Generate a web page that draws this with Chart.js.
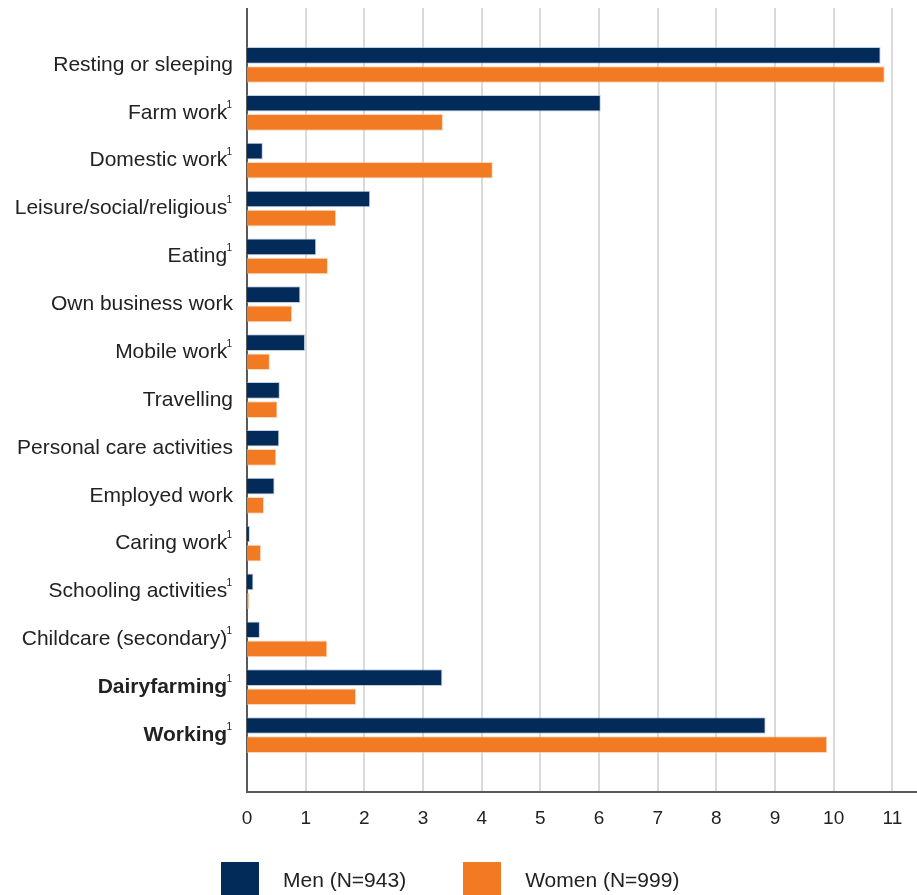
<!DOCTYPE html>
<html>
<head>
<meta charset="utf-8">
<script src="https://cdn.jsdelivr.net/npm/chart.js@4/dist/chart.umd.min.js"></script>
<style>
  html, body { margin: 0; padding: 0; background: #fff; overflow: hidden; }
  #wrap { position: relative; width: 917px; height: 895px; }
  #legend { position: absolute; left: 221px; top: 862px; display: flex; font: 21px "Liberation Sans", Arial, sans-serif; color: #222; }
  .item { display: flex; align-items: flex-start; }
  .box { width: 38px; height: 38px; margin-right: 24px; }
  .txt { margin-top: 7px; line-height: 22px; }
</style>
</head>
<body>
<div id="wrap">
  <canvas id="timeUseChart" width="917" height="895"></canvas>
  <div id="legend"></div>
</div>
<script>
// hours per day by activity
var activities = [
    'Resting or sleeping', 'Farm work', 'Domestic work', 'Leisure/social/religious',
    'Eating', 'Own business work', 'Mobile work', 'Travelling',
    'Personal care activities', 'Employed work', 'Caring work', 'Schooling activities',
    'Childcare (secondary)', 'Dairyfarming', 'Working'
];
var footnoted = [false, true, true, true, true, false, true, false, false, false, true, true, true, true, true];
var boldRows = [13, 14];
var menHours   = [10.80, 6.03, 0.27, 2.10, 1.18, 0.91, 0.99, 0.56, 0.55, 0.47, 0.05, 0.11, 0.22, 3.33, 8.84];
var womenHours = [10.87, 3.34, 4.19, 1.52, 1.38, 0.77, 0.39, 0.52, 0.50, 0.29, 0.24, 0.04, 1.37, 1.86, 9.89];
var seriesNames = ['Men (N=943)', 'Women (N=999)'];
var seriesColors = ['#032b5a', '#f27a22'];

var FONT = '"Liberation Sans", Arial, sans-serif';
var extendTop = 33, extendBottom = 33;
var labelPad = 14;

// grid + axis lines run past the bar band, so draw them by hand
var frameLines = {
    id: 'frameLines',
    beforeDatasetsDraw: function(chart) {
        var ctx = chart.ctx, area = chart.chartArea, xs = chart.scales.x;
        var top = area.top - extendTop, bottom = area.bottom + extendBottom;
        ctx.save();
        ctx.lineWidth = 2;
        ctx.strokeStyle = '#dadada';
        xs.ticks.forEach(function(t) {
            if (t.value <= 0) return;
            var x = Math.round(xs.getPixelForValue(t.value));
            ctx.beginPath();
            ctx.moveTo(x, top);
            ctx.lineTo(x, bottom);
            ctx.stroke();
        });
        var x0 = Math.round(xs.getPixelForValue(0));
        ctx.strokeStyle = '#595959';
        ctx.beginPath();
        ctx.moveTo(x0, top);
        ctx.lineTo(x0, bottom);
        ctx.lineTo(chart.width, bottom);
        ctx.stroke();
        ctx.restore();
    }
};

// small raised "1" footnote marks after the category labels
var footnoteMarks = {
    id: 'footnoteMarks',
    afterDraw: function(chart) {
        var ctx = chart.ctx, ys = chart.scales.y;
        ctx.save();
        ctx.fillStyle = '#222';
        ctx.font = '10px ' + FONT;
        ctx.textAlign = 'right';
        ctx.textBaseline = 'top';
        footnoted.forEach(function(f, i) {
            if (!f) return;
            var y = ys.getPixelForValue(i);
            ctx.fillText('1', ys.right - labelPad - 1, y - 13);
        });
        ctx.restore();
    }
};

var chart = new Chart(document.getElementById('timeUseChart'), {
    type: 'bar',
    data: {
        labels: activities,
        datasets: [{
            label: seriesNames[0],
            data: menHours,
            backgroundColor: seriesColors[0],
            borderColor: 'rgba(140,170,200,0.55)',
            borderWidth: 1,
            categoryPercentage: 0.8,
            barPercentage: 0.87
        }, {
            label: seriesNames[1],
            data: womenHours,
            backgroundColor: seriesColors[1],
            borderColor: 'rgba(250,190,150,0.6)',
            borderWidth: 1,
            categoryPercentage: 0.8,
            barPercentage: 0.87
        }]
    },
    options: {
        indexAxis: 'y',
        responsive: false,
        animation: false,
        layout: { padding: { top: 41, right: 0, bottom: 0, left: 0 } },
        plugins: {
            legend: { display: false },
            tooltip: { enabled: false }
        },
        scales: {
            x: {
                min: 0,
                max: 11.42,
                grid: { display: false, drawTicks: true, tickLength: 44 },
                border: { display: false },
                ticks: {
                    stepSize: 1,
                    includeBounds: false,
                    padding: 4,
                    color: '#222',
                    font: { family: FONT, size: 19 }
                },
                afterFit: function(scale) { scale.height = 136; }
            },
            y: {
                grid: { display: false, drawTicks: false },
                border: { display: false },
                ticks: {
                    padding: labelPad,
                    color: '#222',
                    callback: function(v, i) {
                        return activities[i] + (footnoted[i] ? ' ' : '');
                    },
                    font: function(c) {
                        return { family: FONT, size: 21, weight: boldRows.indexOf(c.index) >= 0 ? 'bold' : 'normal' };
                    }
                },
                afterFit: function(scale) { scale.width = 247; }
            }
        }
    },
    plugins: [frameLines, footnoteMarks]
});

// legend built from the dataset names/colours
var legendEl = document.getElementById('legend');
seriesNames.forEach(function(name, i) {
    var item = document.createElement('div');
    item.className = 'item';
    item.style.marginRight = i === 0 ? '57px' : '0';
    var box = document.createElement('div');
    box.className = 'box';
    box.style.background = seriesColors[i];
    var txt = document.createElement('div');
    txt.className = 'txt';
    txt.textContent = name;
    item.appendChild(box);
    item.appendChild(txt);
    legendEl.appendChild(item);
});
</script>
</body>
</html>
